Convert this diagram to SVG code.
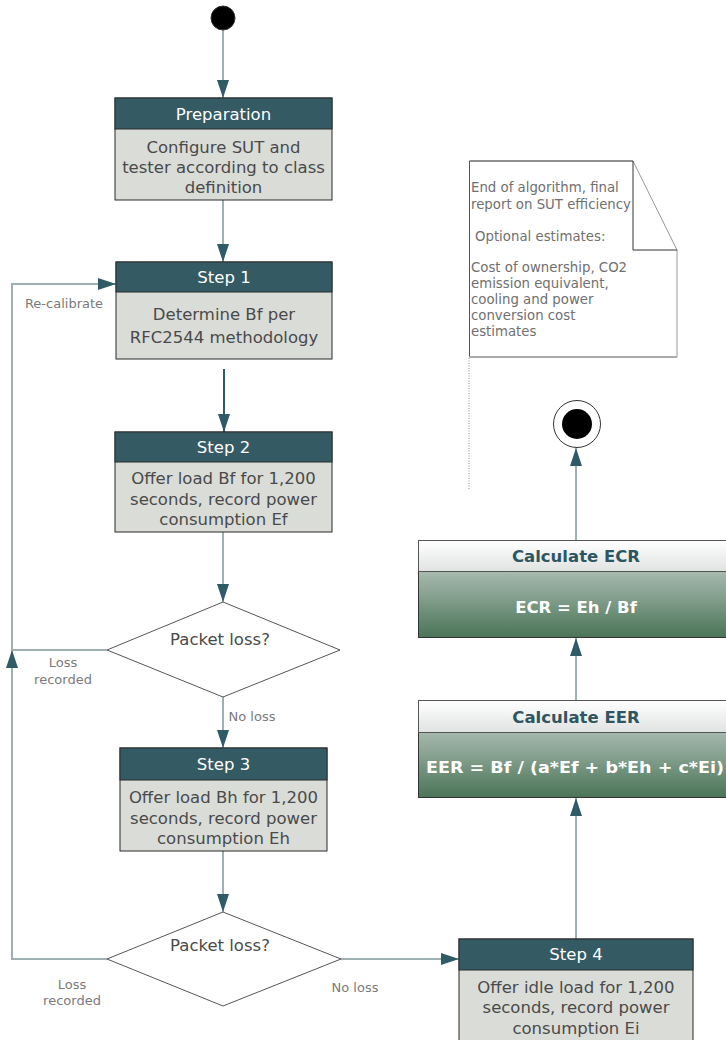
<svg xmlns="http://www.w3.org/2000/svg" width="726" height="1040" viewBox="0 0 726 1040">
<style>
.hdr{fill:#345a64;stroke:#2a2a2a;stroke-width:1}
.body{fill:#d9dcd7;stroke:#2a2a2a;stroke-width:1}
.ht{font-family:"DejaVu Sans",Verdana,sans-serif;font-size:16.5px;fill:#ffffff;text-anchor:middle}
.bt{font-family:"DejaVu Sans",Verdana,sans-serif;font-size:16.5px;fill:#4a4a4a;text-anchor:middle}
.lbl{font-family:"DejaVu Sans",Verdana,sans-serif;font-size:13px;fill:#7a7a7a;text-anchor:middle}
.note{font-family:"DejaVu Sans",Verdana,sans-serif;font-size:13.3px;fill:#707070}
.con{fill:none;stroke:#9fb0b2;stroke-width:2}
.dia{fill:#ffffff;stroke:#555;stroke-width:1}
.calcT{font-family:"DejaVu Sans",Verdana,sans-serif;font-size:16.5px;font-weight:bold;fill:#2f5660;text-anchor:middle}
.calcB{font-family:"DejaVu Sans",Verdana,sans-serif;font-size:16.5px;font-weight:bold;fill:#ffffff;text-anchor:middle}
</style>
<defs>
<marker id="ah" viewBox="0 0 18 12" refX="18" refY="6" markerWidth="18" markerHeight="12" markerUnits="userSpaceOnUse" orient="auto">
<path d="M0,0 L18,6 L0,12 Z" fill="#2f5b66"/>
</marker>
<linearGradient id="gh" x1="0" y1="0" x2="0" y2="1">
<stop offset="0" stop-color="#ffffff"/>
<stop offset="1" stop-color="#dfe3e1"/>
</linearGradient>
<linearGradient id="gb" x1="0" y1="0" x2="0" y2="1">
<stop offset="0" stop-color="#cfd8d2"/>
<stop offset="0.5" stop-color="#8fa898"/>
<stop offset="1" stop-color="#4a7457"/>
</linearGradient>
</defs>

<g id="connectors">
<line class="con" x1="223" y1="30" x2="223" y2="98" marker-end="url(#ah)"/>
<line class="con" x1="223" y1="200" x2="223" y2="262" marker-end="url(#ah)"/>
<line x1="224" y1="369" x2="224" y2="432" stroke="#2f5b66" stroke-width="2" marker-end="url(#ah)"/>
<line class="con" x1="223" y1="532" x2="223" y2="602" marker-end="url(#ah)"/>
<line class="con" x1="223" y1="697" x2="223" y2="748" marker-end="url(#ah)"/>
<line class="con" x1="223" y1="851" x2="223" y2="912" marker-end="url(#ah)"/>
<polyline class="con" points="107,959 12,959 12,284 116,284" marker-end="url(#ah)"/>
<line class="con" x1="107" y1="650" x2="12" y2="650"/>
<line class="con" x1="12" y1="668" x2="12" y2="650" marker-end="url(#ah)"/>
<line class="con" x1="341" y1="959" x2="459" y2="959" marker-end="url(#ah)"/>
<line class="con" x1="576" y1="939" x2="576" y2="798" marker-end="url(#ah)"/>
<line class="con" x1="576" y1="700" x2="576" y2="638" marker-end="url(#ah)"/>
<line class="con" x1="576" y1="540" x2="576" y2="448" marker-end="url(#ah)"/>
<line x1="469" y1="358" x2="469" y2="490" stroke="#888" stroke-width="1" stroke-dasharray="1,1.5"/>
<text class="lbl" x="64" y="308">Re-calibrate</text>
<text class="lbl" x="63" y="667">Loss</text>
<text class="lbl" x="63" y="684">recorded</text>
<text class="lbl" x="252" y="721">No loss</text>
<text class="lbl" x="72" y="989">Loss</text>
<text class="lbl" x="72" y="1005">recorded</text>
<text class="lbl" x="355" y="992">No loss</text>
</g>

<g id="start">
<circle cx="223" cy="18" r="12" fill="#000" stroke="#333" stroke-width="1"/>
</g>

<g id="preparation">
<rect class="body" x="115" y="98" width="217" height="102"/>
<rect class="hdr" x="115" y="98" width="217" height="31"/>
<text class="ht" x="223.5" y="119.5">Preparation</text>
<text class="bt" x="223.5" y="153">Configure SUT and</text>
<text class="bt" x="223.5" y="173">tester according to class</text>
<text class="bt" x="223.5" y="193">definition</text>
</g>

<g id="step1">
<rect class="body" x="116" y="262" width="216" height="97"/>
<rect class="hdr" x="116" y="262" width="216" height="30"/>
<text class="ht" x="224" y="283">Step 1</text>
<text class="bt" x="224" y="320">Determine Bf per</text>
<text class="bt" x="224" y="343">RFC2544 methodology</text>
</g>

<g id="step2">
<rect class="body" x="115" y="432" width="217" height="100"/>
<rect class="hdr" x="115" y="432" width="217" height="30"/>
<text class="ht" x="223.5" y="453">Step 2</text>
<text class="bt" x="223.5" y="484">Offer load Bf for 1,200</text>
<text class="bt" x="223.5" y="505">seconds, record power</text>
<text class="bt" x="223.5" y="525">consumption Ef</text>
</g>

<g id="decision1">
<polygon class="dia" points="223,602 340,650 223,697 107,650"/>
<text class="bt" x="220" y="645" fill="#555">Packet loss?</text>
</g>

<g id="step3">
<rect class="body" x="120" y="748" width="207" height="103"/>
<rect class="hdr" x="120" y="748" width="207" height="32"/>
<text class="ht" x="223.5" y="770">Step 3</text>
<text class="bt" x="223.5" y="803">Offer load Bh for 1,200</text>
<text class="bt" x="223.5" y="824">seconds, record power</text>
<text class="bt" x="223.5" y="844">consumption Eh</text>
</g>

<g id="decision2">
<polygon class="dia" points="223,912 341,959 223,1006 107,959"/>
<text class="bt" x="220" y="951">Packet loss?</text>
</g>

<g id="step4">
<rect class="body" x="459" y="939" width="234" height="110"/>
<rect class="hdr" x="459" y="939" width="234" height="31"/>
<text class="ht" x="576" y="960">Step 4</text>
<text class="bt" x="576" y="993">Offer idle load for 1,200</text>
<text class="bt" x="576" y="1013">seconds, record power</text>
<text class="bt" x="576" y="1034">consumption Ei</text>
</g>

<g id="calcEER">
<rect x="418.5" y="700.5" width="316" height="97" fill="url(#gb)" stroke="#333" stroke-width="1"/>
<rect x="418.5" y="700.5" width="316" height="32" fill="url(#gh)" stroke="#555" stroke-width="1"/>
<text class="calcT" x="576" y="723">Calculate EER</text>
<text class="calcB" x="575" y="773" textLength="298" lengthAdjust="spacingAndGlyphs">EER = Bf / (a*Ef + b*Eh + c*Ei)</text>
</g>

<g id="calcECR">
<rect x="418.5" y="540.5" width="316" height="97" fill="url(#gb)" stroke="#333" stroke-width="1"/>
<rect x="418.5" y="540.5" width="316" height="31" fill="url(#gh)" stroke="#555" stroke-width="1"/>
<text class="calcT" x="576" y="562">Calculate ECR</text>
<text class="calcB" x="576" y="613">ECR = Eh / Bf</text>
</g>

<g id="end">
<circle cx="577" cy="424" r="23.5" fill="#fff" stroke="#333" stroke-width="1"/>
<circle cx="577" cy="424" r="15" fill="#000"/>
</g>

<g id="note">
<polygon points="469.5,161 633,161 677,250 677,357 469.5,357" fill="#fff" stroke="#999" stroke-width="1"/>
<polyline points="469.5,357 469.5,161 633,161" fill="none" stroke="#555" stroke-width="1"/>
<line x1="469.5" y1="357" x2="677" y2="357" stroke="#aaa" stroke-width="2"/>
<polyline points="633,161 633,250 677,250" fill="none" stroke="#333" stroke-width="1"/>
<text class="note" x="471" y="192">End of algorithm, final</text>
<text class="note" x="471" y="209">report on SUT efficiency</text>
<text class="note" x="475" y="241">Optional estimates:</text>
<text class="note" x="471" y="272">Cost of ownership, CO2</text>
<text class="note" x="471" y="288">emission equivalent,</text>
<text class="note" x="471" y="304">cooling and power</text>
<text class="note" x="471" y="320">conversion cost</text>
<text class="note" x="471" y="336">estimates</text>
</g>
</svg>
